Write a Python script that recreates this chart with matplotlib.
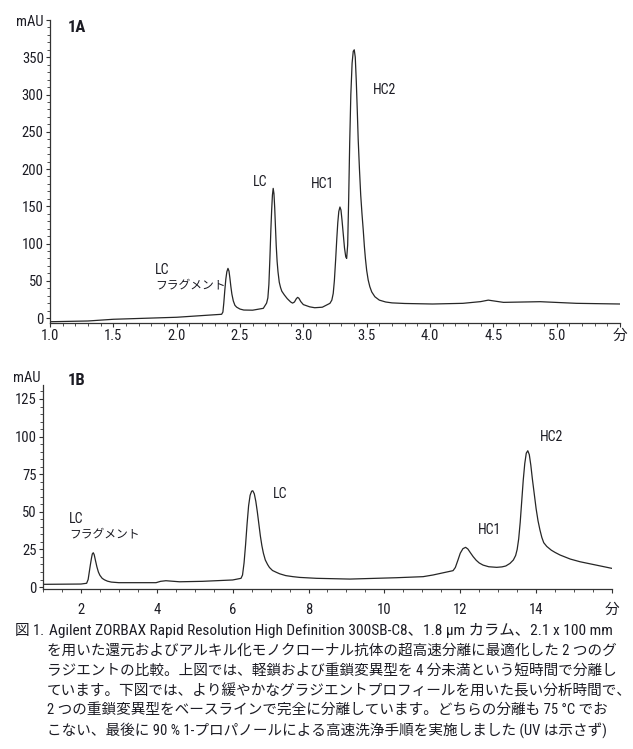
import matplotlib
matplotlib.use("Agg")
import matplotlib.pyplot as plt
from matplotlib import font_manager as fm
from matplotlib.ticker import MultipleLocator

names = {f.name for f in fm.fontManager.ttflist}
narrow = None
for cand in ["Roboto Condensed", "Liberation Sans Narrow", "DejaVu Sans Condensed", "Liberation Sans"]:
    if cand in names:
        narrow = cand
        break
FAM = [narrow, "Noto Sans CJK JP", "DejaVu Sans"]
plt.rcParams['font.family'] = FAM

# ---- data: chromatogram 1A ----
t_a = [1.0, 1.3, 1.5, 2.0, 2.355, 2.365, 2.372, 2.38, 2.388, 2.396, 2.405, 2.413, 2.42, 2.428,
       2.436, 2.447, 2.46, 2.474, 2.5, 2.53, 2.6, 2.684, 2.71, 2.72, 2.728, 2.736, 2.744, 2.75,
       2.756, 2.762, 2.768, 2.774, 2.78, 2.786, 2.793, 2.8, 2.81, 2.82, 2.83, 2.85, 2.873, 2.9,
       2.915, 2.93, 2.945, 2.955, 2.965, 2.98, 3.0, 3.05, 3.09, 3.15, 3.21, 3.225, 3.236, 3.245,
       3.255, 3.264, 3.272, 3.28, 3.289, 3.297, 3.305, 3.315, 3.325, 3.335, 3.342, 3.35, 3.358,
       3.366, 3.375, 3.385, 3.394, 3.402, 3.41, 3.418, 3.426, 3.433, 3.443, 3.453, 3.463, 3.473,
       3.482, 3.49, 3.5, 3.512, 3.525, 3.54, 3.565, 3.6, 3.65, 3.7, 3.8, 4.02, 4.26, 4.4, 4.46,
       4.52, 4.58, 4.87, 5.157, 5.5]
y_a = [-5, -4, -1.7, 1, 5, 8, 20, 37, 52, 62, 66.6, 63, 54, 42,
       32, 23, 17, 14.5, 12, 10.7, 10.5, 13, 20, 27, 45, 80, 120, 145,
       165, 174, 167, 148, 122, 97, 76, 62, 48, 41, 36, 31, 26, 21.5,
       20, 21.5, 26, 27.7, 26.5, 22, 18, 15, 13.8, 14.5, 19.7, 24, 33, 50,
       78, 106, 128, 143, 149, 145, 132, 113, 94, 82, 80, 98, 160,
       235, 300, 342, 358, 360, 350, 318, 278, 240, 200, 165, 140, 118,
       96, 80, 64, 51, 42, 35, 28.5, 24, 21.5, 20.3, 19.5, 18.8, 19.7, 22, 24,
       22.5, 21, 21.9, 19.7, 18.8]

# ---- data: chromatogram 1B ----
t_b = [1.0, 1.5, 2.0, 2.15, 2.19, 2.22, 2.25, 2.28, 2.3, 2.325, 2.35, 2.38, 2.42, 2.46, 2.5,
       2.56, 2.62, 2.7, 2.8, 3.0, 3.98, 4.1, 4.24, 4.6, 5.2, 6.0, 6.22, 6.26, 6.3, 6.34, 6.38,
       6.42, 6.46, 6.5, 6.53, 6.57, 6.61, 6.65, 6.69, 6.73, 6.77, 6.81, 6.86, 6.92, 6.97, 7.05,
       7.15, 7.24, 7.4, 7.59, 7.77, 8.21, 9.09, 10.32, 11.02, 11.28, 11.81, 11.87, 11.94, 12.0,
       12.07, 12.14, 12.2, 12.27, 12.34, 12.42, 12.5, 12.6, 12.75, 12.96, 13.1, 13.2, 13.31,
       13.4, 13.46, 13.5, 13.54, 13.58, 13.62, 13.66, 13.7, 13.74, 13.78, 13.82, 13.86, 13.9,
       13.95, 14.0, 14.05, 14.1, 14.15, 14.2, 14.28, 14.4, 14.5, 14.63, 14.9, 15.16, 15.6, 16.0]
y_b = [1.8, 1.9, 2.0, 2.5, 5, 10, 15, 19.5, 22, 22.8, 21.5, 18, 13.5, 10, 7.8,
       5.8, 4.8, 3.9, 3.3, 2.9, 2.9, 3.8, 4.2, 3.5, 3.8, 4.7, 5.8, 8, 16, 28, 42,
       54, 61, 63.7, 64, 62, 57, 50, 42, 34, 27.5, 22.5, 18, 15, 13, 11,
       9.8, 8.8, 7.6, 6.9, 6.4, 5.8, 5.3, 6.2, 6.9, 8, 10.9, 13, 18, 22.5,
       25.5, 26.4, 25.3, 22.7, 20.2, 17.8, 16, 14.6, 13.5, 13.1, 13.4, 14, 15.7,
       18, 21, 25, 32, 43, 57, 71, 82, 89, 90.6, 88, 81, 72,
       62, 52, 44, 38, 33, 29.5, 27, 24.5, 23, 21.3, 18.6, 16.8, 14.5, 12.4]

xt_a = [1.0, 1.5, 2.0, 2.5, 3.0, 3.5, 4.0, 4.5, 5.0, 5.5]
xl_a = ["1.0", "1.5", "2.0", "2.5", "3.0", "3.5", "4.0", "4.5", "5.0", "分"]
yt_a = [0, 50, 100, 150, 200, 250, 300, 350, 400]
yl_a = ["0", "50", "100", "150", "200", "250", "300", "350", "mAU"]

xt_b = [2, 4, 6, 8, 10, 12, 14, 16]
xl_b = ["2", "4", "6", "8", "10", "12", "14", "分"]
yt_b = [0, 25, 50, 75, 100, 125]
yl_b = ["0", "25", "50", "75", "100", "125"]

labels_a = [("1A", 1.14, 390, "b"), ("LC", 2.60, 182, "n"), ("HC1", 3.06, 180, "n"),
            ("HC2", 3.55, 306, "n"), ("LC", 1.83, 64, "n"), ("フラグメント", 1.83, 44, "j")]
labels_b = [("1B", 1.64, 137.6, "b"), ("LC", 7.05, 62, "n"), ("HC1", 12.46, 38, "n"),
            ("HC2", 14.1, 100, "n"), ("LC", 1.69, 45, "n"), ("フラグメント", 1.69, 35, "j")]

caption_head = "図 1."
caption = [
    "Agilent ZORBAX Rapid Resolution High Definition 300SB-C8、1.8 µm カラム、2.1 x 100 mm",
    "を用いた還元およびアルキル化モノクローナル抗体の超高速分離に最適化した 2 つのグ",
    "ラジエントの比較。上図では、軽鎖および重鎖変異型を 4 分未満という短時間で分離し",
    "ています。下図では、より緩やかなグラジエントプロフィールを用いた長い分析時間で、",
    "2 つの重鎖変異型をベースラインで完全に分離しています。どちらの分離も 75 °C でお",
    "こない、最後に 90 % 1-プロパノールによる高速洗浄手順を実施しました (UV は示さず)",
]

W, H = 633, 749
fig = plt.figure(figsize=(W / 100, H / 100), dpi=100)

LINE = "#262626"
TXT = "#1c1c24"


def style(ax):
    for s in ["top", "right"]:
        ax.spines[s].set_visible(False)
    for s in ["left", "bottom"]:
        ax.spines[s].set_color("#333333")
        ax.spines[s].set_linewidth(0.9)
    ax.tick_params(which="major", direction="out", length=3, width=0.8, color="#333333",
                   labelsize=10.5, labelcolor=TXT, pad=1.5)
    ax.tick_params(which="minor", direction="out", length=2, width=0.6, color="#333333")


def put_labels(ax, labels):
    for txt, x, y, kind in labels:
        if kind == "b":
            ax.text(x, y, txt, fontsize=12, fontweight="bold", ha="left", va="center",
                    color=TXT, clip_on=False)
        elif kind == "j":
            ax.text(x, y, txt, fontsize=8.5, ha="left", va="center", color=TXT, clip_on=False)
        else:
            ax.text(x, y, txt, fontsize=10, ha="left", va="center", color=TXT, clip_on=False)


ax1 = fig.add_axes([50 / W, 1 - 323 / H, 570 / W, 303 / H])
ax1.plot(t_a, y_a, color=LINE, lw=0.9)
ax1.set_xlim(1.0, 5.5)
ax1.set_ylim(-6.7, 400)
ax1.set_xticks(xt_a, xl_a)
ax1.set_yticks(yt_a, yl_a)
ax1.xaxis.set_minor_locator(MultipleLocator(0.1))
ax1.yaxis.set_minor_locator(MultipleLocator(10))
style(ax1)
put_labels(ax1, labels_a)

ax2 = fig.add_axes([43 / W, 1 - 589 / H, 569 / W, 204 / H])
ax2.plot(t_b, y_b, color=LINE, lw=0.9)
ax2.set_xlim(1.0, 16.0)
ax2.set_ylim(-1.3, 134.3)
ax2.set_xticks(xt_b, xl_b)
ax2.set_yticks(yt_b, yl_b)
ax2.xaxis.set_minor_locator(MultipleLocator(0.5))
ax2.yaxis.set_minor_locator(MultipleLocator(5))
style(ax2)
ax2.tick_params(axis="x", which="major", pad=7)
put_labels(ax2, labels_b)
fig.text(41 / W, 1 - 378 / H, "mAU", fontsize=10.5, ha="right", va="center", color=TXT)

# caption
fig.text(15 / W, 1 - 631 / H, caption_head, fontsize=10.5, ha="left", va="center", color=TXT)
for i, line in enumerate(caption):
    fs = 11.1 if i == 0 else 10.5
    x0 = 49 if i == 0 else 47
    fig.text(x0 / W, 1 - (631 + 20 * i) / H, line, fontsize=fs, ha="left", va="center", color=TXT)

fig.savefig("out.png", dpi=100)
